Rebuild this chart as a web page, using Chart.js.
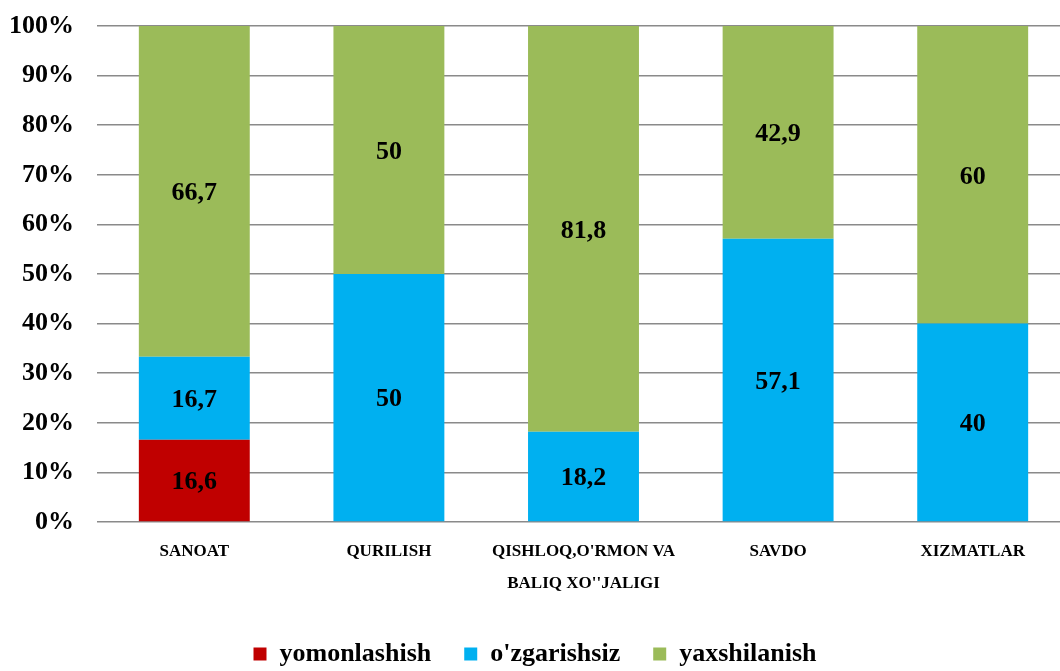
<!DOCTYPE html>
<html><head><meta charset="utf-8">
<script src="https://cdn.jsdelivr.net/npm/chart.js@4/dist/chart.umd.min.js"></script>
<style>
html,body{margin:0;padding:0;background:#fff;overflow:hidden;width:1060px;height:671px;}
#wrap{position:absolute;left:0;top:0;width:1070px;height:671px;}
</style></head>
<body>
<div id="wrap"><canvas id="c" width="1070" height="671"></canvas></div>
<script>
const categories = ["SANOAT", "QURILISH", ["QISHLOQ,O'RMON VA", "BALIQ XO''JALIGI"], "SAVDO", "XIZMATLAR"];
const seriesNames = ["yomonlashish", "o'zgarishsiz", "yaxshilanish"];
const yomonlashish = [16.6, null, null, null, null];
const ozgarishsiz = [16.7, 50, 18.2, 57.1, 40];
const yaxshilanish = [66.7, 50, 81.8, 42.9, 60];
const seriesColors = ["#C00000", "#00B0F0", "#9BBB59"];
const yTicks = [0,10,20,30,40,50,60,70,80,90,100];

const FONT = "'Liberation Serif', 'Times New Roman', serif";

const labelPlugin = {
  id: 'barLabels',
  beforeLayout(chart) {
    const lg = chart.legend;
    if (lg && !lg._patched) {
      const orig = lg.fit;
      lg.fit = function() { orig.call(this); this.height = 63; };
      lg._patched = true;
    }
  },
  afterDatasetsDraw(chart) {
    const ctx = chart.ctx;
    ctx.save();
    ctx.font = "bold 26px " + FONT;
    ctx.fillStyle = '#000';
    ctx.textAlign = 'center';
    ctx.textBaseline = 'middle';
    chart.data.datasets.forEach((ds, i) => {
      const meta = chart.getDatasetMeta(i);
      meta.data.forEach((el, j) => {
        const v = ds.data[j];
        if (v === null || v === 0) return;
        const p = el.getCenterPoint();
        ctx.fillText(String(v).replace('.', ','), p.x, p.y + 2);
      });
    });
    ctx.restore();
  }
};

new Chart(document.getElementById('c'), {
  type: 'bar',
  data: {
    labels: categories,
    datasets: [
      { label: seriesNames[0], data: yomonlashish, backgroundColor: seriesColors[0] },
      { label: seriesNames[1], data: ozgarishsiz, backgroundColor: seriesColors[1] },
      { label: seriesNames[2], data: yaxshilanish, backgroundColor: seriesColors[2] }
    ]
  },
  options: {
    responsive: false,
    animation: false,
    devicePixelRatio: 1,
    barPercentage: 0.57,
    categoryPercentage: 1,
    layout: { padding: { top: 26, left: 0, right: 0, bottom: 0 } },
    plugins: {
      legend: {
        position: 'bottom',
        labels: {
          font: { family: FONT, size: 26, weight: 'bold' },
          color: '#000',
          boxWidth: 13, boxHeight: 13,
          padding: 33
        }
      },
      tooltip: { enabled: false }
    },
    scales: {
      x: {
        stacked: true,
        grid: { display: false },
        border: { display: false },
        ticks: {
          font: { family: FONT, size: 17, weight: 'bold', lineHeight: 1.88 },
          color: '#000',
          maxRotation: 0,
          autoSkip: false,
          padding: 6
        },
        afterFit(s) { s.height = 86; }
      },
      y: {
        stacked: true,
        min: 0, max: 100,
        afterBuildTicks(s) { s.ticks = yTicks.map(v => ({ value: v })); },
        grid: { color: '#8a8a8a', lineWidth: 1.5, drawTicks: false },
        border: { display: false },
        ticks: {
          font: { family: FONT, size: 26, weight: 'bold' },
          color: '#000',
          padding: 23,
          callback: v => v + '%'
        },
        afterFit(s) { s.width = 97; s.paddingTop = 0; s.paddingBottom = 0; }
      }
    }
  },
  plugins: [labelPlugin]
});
</script>
</body></html>
